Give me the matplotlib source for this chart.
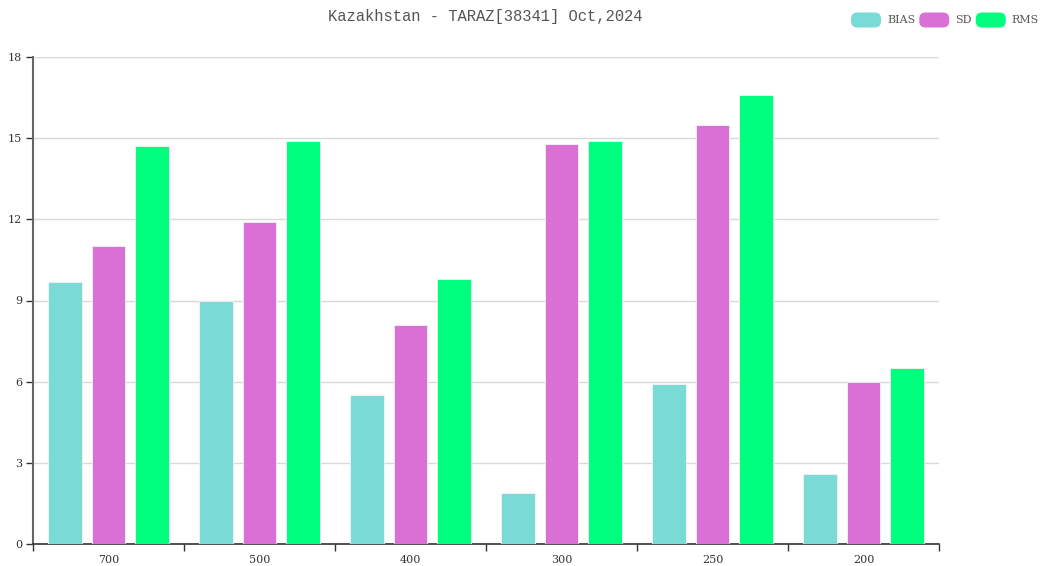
import numpy as np
import matplotlib.pyplot as plt
from matplotlib.patches import FancyBboxPatch

# pressure levels (hPa) and statistics
levels = ["700", "500", "400", "300", "250", "200"]
bias = [9.7, 9.0, 5.5, 1.9, 5.9, 2.6]
sd = [11.0, 11.9, 8.1, 14.8, 15.5, 6.0]
rms = [14.7, 14.9, 9.8, 14.9, 16.6, 6.5]

series = [("BIAS", bias, "#7adad5"), ("SD", sd, "#da70d6"), ("RMS", rms, "#00ff7f")]

fig = plt.figure(figsize=(10.48, 5.66), dpi=100)
ax = fig.add_axes([33 / 1048, 22 / 566, 906 / 1048, 487 / 566])

x = np.arange(len(levels))
width = 0.225
step = 0.291
for i, (name, vals, color) in enumerate(series):
    ax.bar(x + (i - 1) * step, vals, width, color=color, edgecolor="#f4f4f4",
           linewidth=0.6, zorder=3)

ax.set_xlim(-0.5, len(levels) - 0.5)
ax.set_ylim(0, 18)
ax.set_yticks(np.arange(0, 19, 3))
ax.yaxis.grid(True, color="#d9d9d9", linewidth=1, zorder=0)

# ticks at category boundaries, labels at centres
ax.set_xticks(np.arange(-0.5, len(levels), 1.0))
ax.set_xticklabels([])
ax.set_xticks(x, minor=True)
ax.set_xticklabels(levels, minor=True)
ax.tick_params(axis="x", which="minor", length=0, pad=8)
ax.tick_params(axis="x", which="major", length=5, color="#333333", width=1)
ax.tick_params(axis="y", length=5, color="#333333", width=1, pad=3)

tick_font = {"family": "DejaVu Serif", "size": 8, "color": "#333333"}
for lbl in ax.get_xticklabels(minor=True) + ax.get_yticklabels():
    lbl.set_fontfamily(tick_font["family"])
    lbl.set_fontsize(tick_font["size"])
    lbl.set_color(tick_font["color"])

for s in ["top", "right"]:
    ax.spines[s].set_visible(False)
ax.spines["left"].set_color("#666666")
ax.spines["left"].set_linewidth(1.5)
ax.spines["bottom"].set_color("#333333")
ax.spines["bottom"].set_linewidth(1.2)

fig.text(485 / 1048, 1 - 16 / 566, "Kazakhstan - TARAZ[38341] Oct,2024",
         ha="center", va="center", fontsize=11.2, family="Liberation Mono",
         color="#555555")

# legend with rounded swatches
lx = 851 / 1048
ly = 1 - 20 / 566
sw, sh = 30 / 1048, 15 / 566
renderer = fig.canvas.get_renderer()
for name, vals, color in series:
    patch = FancyBboxPatch((lx, ly - sh / 2), sw, sh,
                           boxstyle="round,pad=0,rounding_size=0.006",
                           transform=fig.transFigure, facecolor=color,
                           edgecolor="none", mutation_aspect=1048 / 566)
    fig.add_artist(patch)
    t = fig.text(lx + sw + 6 / 1048, ly, name, ha="left", va="center",
                 fontsize=8, family="DejaVu Serif", color="#555555")
    bb = t.get_window_extent(renderer=renderer)
    lx = bb.x1 / 1048 + 4 / 1048

fig.savefig("out.png", dpi=100)
